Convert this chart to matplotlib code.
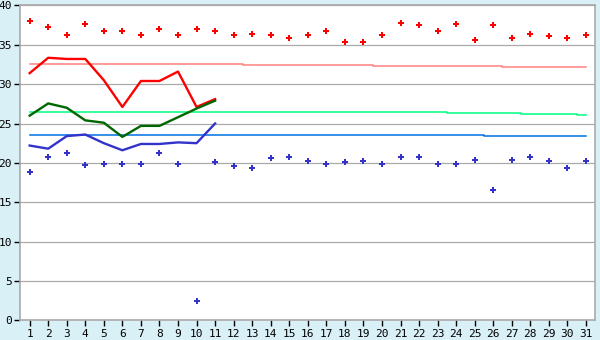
import numpy as np
import matplotlib
matplotlib.use('Agg')
import matplotlib.pyplot as plt

days = np.arange(1, 32)

# daily max / min (scatter)
max_vals = [38.0, 37.2, 36.2, 37.7, 36.7, 36.7, 36.3, 36.95, 36.2, 36.95,
            36.7, 36.3, 36.4, 36.2, 35.8, 36.3, 36.8, 35.3, 35.4, 36.3,
            37.8, 37.5, 36.8, 37.6, 35.6, 37.5, 35.9, 36.4, 36.1, 35.8, 36.3]
min_vals = [18.9, 20.7, 21.3, 19.7, 19.8, 19.9, 19.9, 21.2, 19.9, 2.4,
            20.05, 19.6, 19.3, 20.6, 20.8, 20.2, 19.9, 20.05, 20.2, 19.9,
            20.8, 20.7, 19.8, 19.8, 20.3, 16.5, 20.3, 20.7, 20.2, 19.3, 20.2]

# current values (first 11 days)
line_days = days[:11]
high_line = [31.4, 33.35, 33.2, 33.2, 30.5, 27.1, 30.4, 30.4, 31.6, 27.1, 28.1]
mid_line = [26.0, 27.55, 27.0, 25.4, 25.1, 23.3, 24.7, 24.7, 25.8, 26.9, 27.9]
low_line = [22.2, 21.8, 23.4, 23.6, 22.5, 21.6, 22.4, 22.4, 22.6, 22.5, 25.0]

# long-term averages
avg_high = [32.5] * 12 + [32.38] * 7 + [32.25] * 7 + [32.13] * 5
avg_mid = [26.4] * 23 + [26.28] * 4 + [26.16] * 3 + [26.03] * 1
avg_low = [23.5] * 25 + [23.37] * 6

fig = plt.figure(figsize=(6.0, 3.4), dpi=100)
fig.patch.set_facecolor('#daf0f7')
ax = fig.add_axes([0.034, 0.058, 0.958, 0.926])
ax.set_facecolor('white')

ax.plot(days, avg_high, drawstyle='steps-mid', color='#ff8080', lw=1.1)
ax.plot(days, avg_mid, drawstyle='steps-mid', color='#00ff80', lw=1.1)
ax.plot(days, avg_low, drawstyle='steps-mid', color='#0070e0', lw=1.1)

ax.plot(line_days, high_line, color='#ff0000', lw=1.7)
ax.plot(line_days, mid_line, color='#006600', lw=1.7)
ax.plot(line_days, low_line, color='#3333cc', lw=1.7)

ax.plot(days, max_vals, 'P', color='#ff0000', ms=5, mew=0)
ax.plot(days, min_vals, 'P', color='#3333cc', ms=5, mew=0)

ax.set_xlim(0.5, 31.5)
ax.set_ylim(0, 40)
ax.set_xticks(days)
ax.set_xticklabels([str(d) for d in days])
ax.set_yticks(np.arange(0, 41, 5))
ax.yaxis.grid(True, color='#aaaaaa', lw=0.9)
ax.set_axisbelow(True)
for s in ax.spines.values():
    s.set_color('#aaaaaa')
    s.set_linewidth(1.2)
ax.tick_params(axis='both', length=4, width=1, color='black', pad=2,
               labelsize=8)
for lab in ax.get_xticklabels() + ax.get_yticklabels():
    lab.set_family('DejaVu Sans Mono')

fig.savefig('out.png', dpi=100, facecolor=fig.get_facecolor())
